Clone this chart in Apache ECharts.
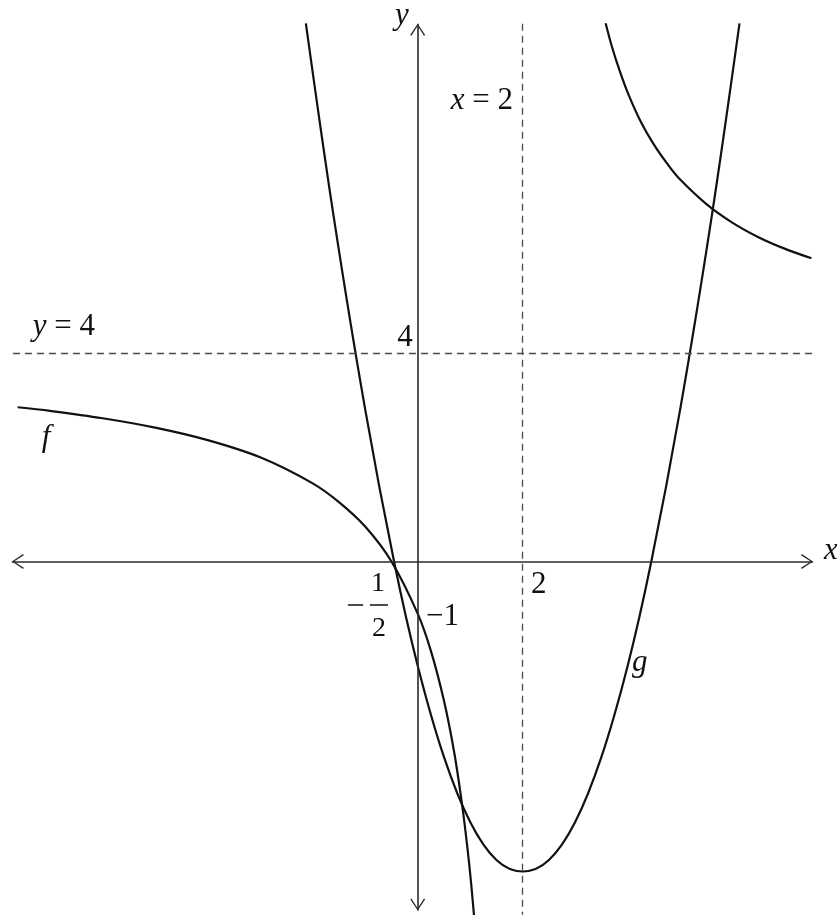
<!DOCTYPE html>
<html>
<head>
<meta charset="utf-8">
<script src="https://cdn.jsdelivr.net/npm/echarts@6/dist/echarts.min.js"></script>
<style>
  html, body { margin: 0; padding: 0; background: #fff; }
  #main { width: 837px; height: 915px; }
</style>
</head>
<body>
<div id="main"></div>
<script>
// f : two branches
const fLeftX  = [-7.62, -7, -6, -5, -4, -3, -2, -1.5, -1, -0.5, 0, 0.25, 0.5, 0.7, 0.85, 0.95, 1.02, 1.1];
const fLeftY  = [2.96, 2.89, 2.75, 2.57, 2.33, 2.0, 1.5, 1.14, 0.67, 0, -1, -1.71, -2.67, -3.69, -4.70, -5.52, -6.2, -7.11];
const fRightX = [3.58, 3.7, 3.85, 4.0, 4.25, 4.5, 4.75, 5.0, 5.5, 6.0, 6.5, 7.0, 7.5];
const fRightY = [10.33, 9.88, 9.41, 9.0, 8.44, 8.0, 7.64, 7.33, 6.86, 6.5, 6.22, 6.0, 5.82];

// g : parabola, vertex near x = 2
const gX = [-2.13, -1.6, -1.0, -0.45, 0, 0.5, 1.0, 1.5, 2.0, 2.5, 3.0, 3.5, 4.0, 4.45, 5.0, 5.6, 6.13];
const gY = [10.33, 6.62, 2.92, 0, -2.0, -3.75, -5.0, -5.73, -5.95, -5.73, -5.0, -3.75, -2.0, 0, 2.92, 6.62, 10.33];

// asymptotes and axis extents
const asymX = 2;
const asymY = 4;
const xAxisEnds = [-7.73, 7.53];
const yAxisEnds = [-6.70, 10.32];

const zip = (xs, ys) => xs.map((x, i) => [x, ys[i]]);

const INK = '#111';
const AXIS = '#2a2a2a';
const DASH = '#4a4a4a';
const SERIF = '"Liberation Serif", "DejaVu Serif", serif';
const arrowHead = 'path://M7.5,0 L15,11.2 L13.8,12 L7.5,2.2 L1.2,12 L0,11.2 Z';

function arrowEnd(coord) {
  return { coord: coord, symbol: arrowHead, symbolSize: [15, 12], symbolOffset: [0, 6] };
}
function dashEnd(coord) {
  return { coord: coord, symbol: 'none', lineStyle: { color: DASH, width: 1.3, type: [7, 5] } };
}

const chart = echarts.init(document.getElementById('main'));

const curve = (name, pts) => ({
  name: name,
  type: 'line',
  data: pts,
  showSymbol: false,
  smooth: 0.35,
  clip: true,
  silent: true,
  lineStyle: { color: INK, width: 2.2 },
  z: 3
});

const gSeries = curve('g', zip(gX, gY));
gSeries.markLine = {
  silent: true,
  animation: false,
  symbol: 'none',
  label: { show: false },
  lineStyle: { color: AXIS, width: 1.6, type: 'solid' },
  data: [
    [arrowEnd([xAxisEnds[0], 0]), arrowEnd([xAxisEnds[1], 0])],
    [arrowEnd([0, yAxisEnds[0]]), arrowEnd([0, yAxisEnds[1]])],
    [dashEnd([asymX, 10.32]), dashEnd([asymX, -6.78])],
    [dashEnd([-7.71, asymY]), dashEnd([7.53, asymY])]
  ]
};

chart.setOption({
  animation: false,
  backgroundColor: '#fff',
  grid: { left: 0, right: 0, top: 0, bottom: 0 },
  xAxis: { type: 'value', min: -7.956, max: 7.987, show: false },
  yAxis: { type: 'value', min: -6.785, max: 10.777, show: false },
  series: [
    curve('f-left', zip(fLeftX, fLeftY)),
    curve('f-right', zip(fRightX, fRightY)),
    gSeries
  ]
});

// text labels anchored at data coordinates
const labels = [
  { text: '{i|y}', at: [-0.30, 10.48], align: 'center' },
  { text: '{i|x} = 2', at: [1.815, 8.85], align: 'right' },
  { text: '{i|y} = 4', at: [-7.33, 4.51], align: 'left' },
  { text: '{i|f}', at: [-7.08, 2.38], align: 'center' },
  { text: '4', at: [-0.24, 4.30], align: 'center' },
  { text: '\u22121', at: [0.158, -1.056], align: 'left' },
  { text: '2', at: [2.158, -0.44], align: 'left' },
  { text: '{i|x}', at: [7.74, 0.21], align: 'left' },
  { text: '{i|g}', at: [4.08, -1.94], align: 'left' },
  { text: '1', at: [-0.757, -0.42], align: 'center', size: 28 },
  { text: '2', at: [-0.738, -1.286], align: 'center', size: 28 }
];
// fraction bar and minus sign of -1/2
const strokes = [
  [[-0.909, -0.835], [-0.566, -0.835]],
  [[-1.33, -0.835], [-1.04, -0.835]]
];

const px = (p) => chart.convertToPixel({ gridIndex: 0 }, p);
const graphics = labels.map(function (l) {
  const p = px(l.at);
  const size = l.size || 31;
  return {
    type: 'text',
    x: p[0],
    y: p[1],
    silent: true,
    style: {
      text: l.text,
      fill: INK,
      font: size + 'px ' + SERIF,
      align: l.align,
      verticalAlign: 'middle',
      rich: { i: { font: 'italic ' + size + 'px ' + SERIF, fill: INK } }
    }
  };
}).concat(strokes.map(function (s) {
  const a = px(s[0]), b = px(s[1]);
  return {
    type: 'line',
    silent: true,
    shape: { x1: a[0], y1: a[1], x2: b[0], y2: b[1] },
    style: { stroke: INK, lineWidth: 1.5 }
  };
}));

chart.setOption({ graphic: graphics });
</script>
</body>
</html>
